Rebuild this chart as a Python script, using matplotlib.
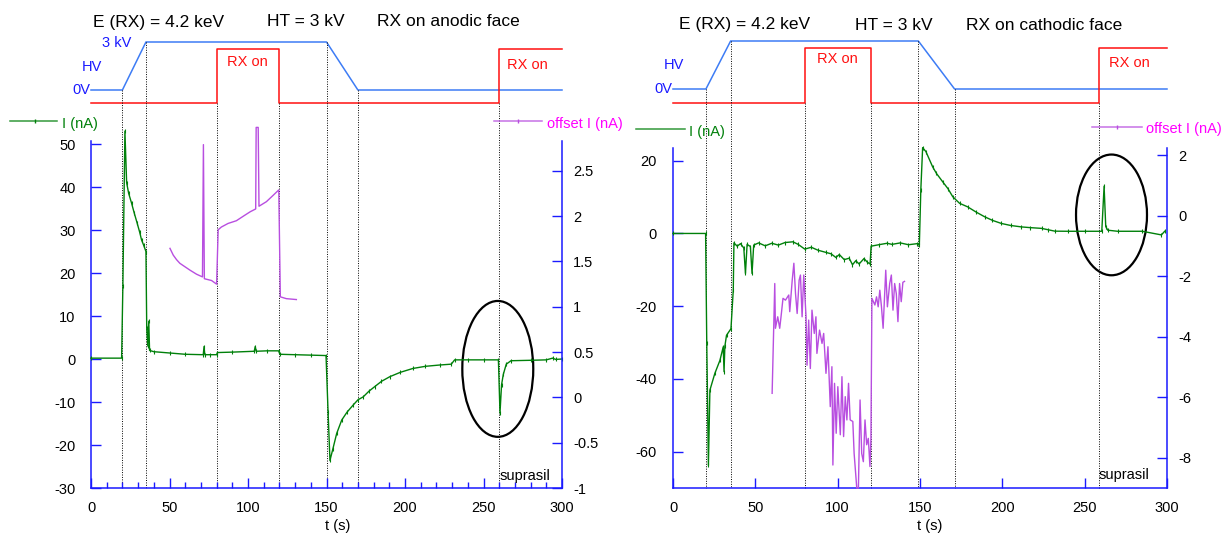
import matplotlib.pyplot as plt
from matplotlib.patches import Ellipse
from matplotlib.ticker import MultipleLocator

plt.rcParams['font.family'] = ['Liberation Sans', 'DejaVu Sans']
plt.rcParams['font.size'] = 10.5
plt.rcParams['axes.unicode_minus'] = False

# ---------------- data ----------------
# timing diagrams (t in s)
hv_t_a = [0, 20, 35, 150, 170, 300]
hv_kv_a = [0, 0, 3, 3, 0, 0]
rx_t_a = [0, 80, 120, 260, 300]
rx_on_a = [0, 1, 0, 1, 1]
marks_a = [20, 35, 80, 120, 150, 170, 260]

hv_t_c = [0, 20, 35, 149, 171, 300]
hv_kv_c = [0, 0, 3, 3, 0, 0]
rx_t_c = [0, 80, 120, 259, 300]
rx_on_c = [0, 1, 0, 1, 1]
marks_c = [20, 35, 80, 120, 149, 171, 259]

# I (nA), RX on anodic face
t_i_a = [0, 19.5, 20.3, 21.6, 22.7, 24, 25.8, 27.5, 29.4, 31, 32.2, 33.5, 35,
         35.5, 36.2, 36.8, 37.3, 40, 50, 60, 71.5, 72, 72.5, 76, 80, 80.5, 90,
         104, 104.6, 105.2, 112, 119.5, 120.3, 130, 140, 149.7, 151, 152.2,
         154, 156.5, 159.7, 163, 167, 170, 173.4, 177, 180.8, 185, 190.4, 197,
         205, 213, 222, 229.5, 231.6, 240, 250, 259.5, 260.5, 261.5, 262.6,
         264.5, 267.5, 280, 290, 294, 296, 300]
i_a = [0.2, 0.2, 17, 53, 41, 38.5, 36.3, 34, 31.6, 29.5, 27.7, 26.5, 25,
       7.2, 3, 8.8, 2, 1.7, 1.4, 1.1, 1.0, 2.9, 1.0, 1.0, 1.0, 1.5, 1.6,
       1.8, 2.9, 1.8, 1.9, 1.9, 1.1, 1.0, 0.9, 0.8, -12.3, -23.6,
       -21, -17.3, -14.2, -12.4, -10.7, -9.5, -8.8, -7.5, -6.4, -5.2, -4.1, -3.1,
       -2.2, -1.7, -1.4, -1.2, -0.2, -0.2, -0.2, -0.2, -12.6, -6, -3.6,
       -1.2, -0.4, -0.3, -0.2, 0.2, -0.1, 0]

# offset I (nA), RX on anodic face
t_off_a = [50.3, 52.4, 54.5, 56.6, 60, 63, 67.2, 71, 71.6, 72.2, 76.8, 80,
           81, 83, 87.3, 92.6, 97.9, 101.5, 104.9, 105.2, 106.5, 107, 111.7,
           116, 119.6, 120.6, 124.4, 130.8]
off_a = [1.645, 1.57, 1.52, 1.48, 1.44, 1.405, 1.36, 1.33, 2.79, 1.31, 1.29,
         1.25, 1.85, 1.88, 1.92, 1.95, 2.01, 2.05, 2.08, 2.98, 2.98, 2.11, 2.16,
         2.23, 2.29, 1.11, 1.09, 1.08]

# I (nA), RX on cathodic face
t_i_c = [0, 19.8, 20.5, 21.5, 22.4, 25.4, 28.5, 30.5, 31, 31.5, 32.5, 35.2,
         36.6, 37, 39, 41, 43, 44, 45, 47, 48, 49, 52, 56, 60, 64, 68, 72.8,
         76, 80, 84, 88, 92.8, 96, 98.9, 101, 104, 107, 109, 111, 113, 116,
         118, 119.7, 120.3, 125, 130, 133, 138, 143, 148.4, 149.6, 150.5,
         151.6, 153.6, 157.7, 160, 163.8, 167, 169.9, 174, 179, 184, 189.2,
         194, 199.4, 205, 211.6, 217, 223.8, 228, 231.9, 240, 250, 260.4,
         261.8, 262.8, 264, 270, 285, 296.6, 298.6]
i_c = [0, 0, -30, -63.8, -43.1, -38.5, -34.9, -31.2, -38, -31, -28, -26.2,
       -15.6, -2.6, -3.5, -2.8, -4, -11, -3, -3.6, -11, -3.2, -2.6, -3.4,
       -2.7, -3.2, -2.5, -2.3, -3, -4.3, -3.8, -4.6, -5.2, -5.6, -6.6, -5.8,
       -7.2, -6.8, -8.6, -7.5, -8.4, -6.9, -7.9, -8.4, -3.5, -3.1, -2.7, -3,
       -2.6, -3.1, -2.8, -3.2, 12, 23.6, 22.5, 18.3, 16.5, 14.2, 12.3, 10.1,
       8.3, 7.3, 5.9, 4.6, 3.6, 2.75, 2.2, 1.8, 1.6, 1.4, 1, 0.63, 0.6, 0.6,
       0.6, 13, 1.9, 0.9, 0.6, 0.6, -0.4, 0.6]

# offset I (nA), RX on cathodic face
t_off_c = [60.2, 61.8, 62.2, 63.6, 64.8, 65.6, 66.8, 68.3, 70.3, 70.9, 72.4,
           73.4, 74.4, 75.4, 76.6, 77.4, 78.4, 79.4, 80.8, 81.4, 82.4, 83.4,
           84.4, 85.8, 86.8, 87.4, 89, 90.5, 91.5, 92.9, 94.1, 95.5, 96.5,
           97.1, 98.1, 99.1, 100.1, 101.6, 102.6, 103.6, 104.6, 105.6, 106.6,
           107.6, 109.2, 110, 111.6, 112.6, 113.6, 114.6, 115.6, 116.6, 117.6,
           118.6, 119.6, 120.2, 120.8, 122.6, 123.6, 124.6, 125.6, 126.6,
           127.6, 129.2, 130.2, 131.6, 132.6, 133.6, 134.6, 135.6, 136.6,
           137.6, 138.6, 139.6, 140.6]
off_c = [-5.87, -2.24, -3.72, -3.34, -3.72, -3.34, -2.73, -2.79, -2.62, -3.17,
         -2.13, -1.57, -2.57, -3.23, -2.13, -1.96, -3.34, -1.96, -3.34, -4.94,
         -3.45, -5.05, -3.12, -3.89, -3.34, -4.55, -3.78, -4.22, -3.89, -5.21,
         -4.33, -6.31, -4.99, -8.24, -5.54, -7.19, -5.65, -7.24, -5.32, -7.3,
         -5.98, -6.75, -5.54, -6.75, -6.8, -7.86, -9.0, -9.0, -6.09, -7.86,
         -8.13, -6.75, -7.57, -7.36, -8.29, -7.36, -2.73, -2.95, -2.68, -3.01,
         -2.46, -3.01, -3.72, -1.8, -3.01, -2.24, -1.96, -3.12, -2.24, -2.57,
         -3.5, -2.24, -2.84, -2.2, -2.17]

# ---------------- style ----------------
W, H = 1231, 534
GREEN = '#00800a'
PURPLE = '#b84ee0'
MAGENTA = '#ff00ff'
BLUE = '#1a1aff'
HVBLUE = '#3d7cf5'
RED = '#ff1010'

fig = plt.figure(figsize=(W / 100, H / 100), dpi=100)


def px_axes(x0, x1, ytop, ybot):
    return fig.add_axes([x0 / W, (H - ybot) / H, (x1 - x0) / W, (ybot - ytop) / H])


def panel(x0, x1, ytop, ybot, lev, hv_t, hv_kv, rx_t, rx_on, marks, minor):
    # overlay for the timing diagram, x in s, y in pixels from the top
    ov = px_axes(x0, x1, 0, ybot)
    ov.set_xlim(0, 300)
    ov.set_ylim(ybot, 0)
    ov.axis('off')
    hv_y = [lev['hv0'] - k * (lev['hv0'] - lev['hv3']) / 3 for k in hv_kv]
    rx_y = [lev['rx0'] - s * (lev['rx0'] - lev['rx1']) for s in rx_on]
    ov.plot(hv_t, hv_y, color=HVBLUE, lw=1.1, clip_on=False)
    ov.step(rx_t, rx_y, where='post', color=RED, lw=1.1, clip_on=False)
    # dotted guide lines start at the diagram corner of each transition
    for t in marks:
        y0 = hv_y[hv_t.index(t)] if t in hv_t else lev['rx0']
        ov.plot([t, t], [y0, ybot], color='black', lw=0.7, ls=(0, (1, 1.5)),
                clip_on=False)

    ax = px_axes(x0, x1, ytop, ybot)
    ax.patch.set_visible(False)
    ax2 = ax.twinx()
    for a in (ax, ax2):
        a.spines['top'].set_visible(False)
        for s in ('left', 'right', 'bottom'):
            a.spines[s].set_color(BLUE)
            a.spines[s].set_linewidth(1.1)
    ax.spines['right'].set_visible(False)
    ax2.spines['left'].set_visible(False)
    ax2.spines['bottom'].set_visible(False)
    ax.set_xlim(0, 300)
    ax.xaxis.set_major_locator(MultipleLocator(50))
    if minor:
        ax.xaxis.set_minor_locator(MultipleLocator(10))
    ax.tick_params(axis='x', which='major', direction='in', length=7, width=1,
                   color=BLUE, pad=9)
    ax.tick_params(axis='x', which='minor', direction='in', length=4, width=1,
                   color=BLUE)
    ax.tick_params(axis='y', direction='in', length=7, width=1, color=BLUE, pad=11)
    ax2.tick_params(axis='y', direction='in', length=7, width=1, color=BLUE, pad=8)
    return ov, ax, ax2


def label_text(s, x, y, **kw):
    fig.text(x / W, 1 - y / H, s, va='center', **kw)


def legend_seg(x0, x1, y, xm, color):
    fig.add_artist(plt.Line2D([x0 / W, x1 / W], [1 - y / H, 1 - y / H],
                              color=color, lw=1.1, alpha=0.8))
    if xm is not None:
        fig.add_artist(plt.Line2D([xm / W], [1 - y / H], marker='|', ms=3,
                                  mew=1, color=color))


# ---- left: anodic face ----
levA = {'hv0': 90, 'hv3': 42, 'rx0': 103, 'rx1': 49}
ovA, axA, axA2 = panel(91, 562, 141, 488, levA, hv_t_a, hv_kv_a, rx_t_a,
                       rx_on_a, marks_a, True)
axA.set_ylim(-30, 50.7)
axA.set_yticks(range(-30, 51, 10))
axA2.set_ylim(-1, 2.83)
axA2.set_yticks([-1, -0.5, 0, 0.5, 1, 1.5, 2, 2.5])
axA2.set_yticklabels(['-1', '-0.5', '0', '0.5', '1', '1.5', '2', '2.5'])
axA.plot(t_i_a, i_a, color=GREEN, lw=1.0, marker='|', ms=2.5, mew=0.8,
         clip_on=False, zorder=3)
axA2.plot(t_off_a, off_a, color=PURPLE, lw=1.0, clip_on=False)
axA.add_patch(Ellipse((259.1, -2.3), 45.2, 31.6, fill=False, lw=1.6, color='black'))
axA.text(260, -27.3, 'suprasil', ha='left', va='center')
axA.set_xlabel('t (s)')
axA.xaxis.set_label_coords(0.524, -0.09)

# ---- right: cathodic face ----
levC = {'hv0': 89, 'hv3': 41, 'rx0': 103, 'rx1': 48}
ovC, axC, axC2 = panel(673, 1167, 148, 488, levC, hv_t_c, hv_kv_c, rx_t_c,
                       rx_on_c, marks_c, False)
axC.set_ylim(-70, 23.5)
axC.set_yticks([-60, -40, -20, 0, 20])
axC2.set_ylim(-9, 2.24)
axC2.set_yticks([-8, -6, -4, -2, 0, 2])
axC.tick_params(axis='y', pad=12)
axC.plot(t_i_c, i_c, color=GREEN, lw=1.0, marker='|', ms=2.5, mew=0.8,
         clip_on=False, zorder=3)
axC2.plot(t_off_c, off_c, color=PURPLE, lw=1.0, clip_on=False)
axC.add_patch(Ellipse((266.3, 5.1), 43.1, 33.2, fill=False, lw=1.6, color='black'))
axC.text(258.5, -66.3, 'suprasil', ha='left', va='center')
axC.set_xlabel('t (s)')
axC.xaxis.set_label_coords(0.52, -0.09)

# ---- header texts ----
for x, s in [(93, 'E (RX) = 4.2 keV'), (267, 'HT = 3 kV'), (377, 'RX on anodic face')]:
    label_text(s, x, 22, fontsize=12.5)
for x, s in [(679, 'E (RX) = 4.2 keV'), (855, 'HT = 3 kV'), (966, 'RX on cathodic face')]:
    label_text(s, x, 25, fontsize=12.5)

label_text('3 kV', 131, 43, color=BLUE, ha='right')
label_text('HV', 102, 67, color=BLUE, ha='right')
label_text('0V', 90, 90, color=BLUE, ha='right')
label_text('HV', 684, 65, color=BLUE, ha='right')
label_text('0V', 672, 89, color=BLUE, ha='right')
label_text('RX on', 227, 62, color=RED)
label_text('RX on', 507, 65, color=RED)
label_text('RX on', 817, 59, color=RED)
label_text('RX on', 1109, 63, color=RED)

legend_seg(10, 57, 121, 35, GREEN)
label_text('I (nA)', 62, 124, color=GREEN)
legend_seg(494, 542, 121, 518, PURPLE)
label_text('offset I (nA)', 547, 124, color=MAGENTA)
legend_seg(636, 685, 129, None, GREEN)
label_text('I (nA)', 689, 132, color=GREEN)
legend_seg(1092, 1142, 127, 1117, PURPLE)
label_text('offset I (nA)', 1146, 129, color=MAGENTA)

fig.savefig('out.png', dpi=100)
